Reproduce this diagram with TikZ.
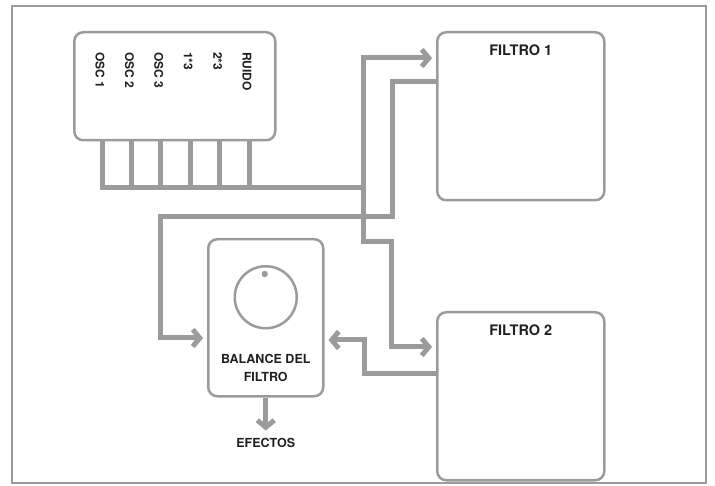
\documentclass[tikz,border=0pt]{standalone}
\usepackage{fontspec}
\setmainfont{TeX Gyre Heros}
\usetikzlibrary{arrows.meta, positioning}
\definecolor{gris}{HTML}{9B9B9B}
\definecolor{encre}{HTML}{231F20}

\begin{document}
\begin{tikzpicture}[
        % Repère en pixels (y vers le bas)
        x=1pt, y=-1pt,
        every node/.style = {font=\bfseries, text=encre},
        % Style des blocs
        bloc/.style = {
            rectangle,
            draw=gris,
            line width=2.5pt,
            fill=white,
            rounded corners=9pt,
            inner sep=0pt,
            anchor=north west
        },
        % Textes
        titre/.style = {font=\bfseries\fontsize{14.5}{17}\selectfont},
        voie/.style = {font=\bfseries\fontsize{12}{14}\selectfont, rotate=-90, anchor=west, inner sep=0pt},
        % Câbles et flèches
        cable/.style = {line width=5pt, draw=gris},
        fleche/.style = {cable, -{Straight Barb[length=7pt, width=17pt]}, shorten >=4pt}
    ]

        % Cadre
        \useasboundingbox (0,0) rectangle (715,486);
        \draw [gris, line width=2pt] (12,6) rectangle (706,483);

        % 1. Placement des blocs
        \node (osc)     [bloc, minimum width=201pt, minimum height=108pt] at (73,31) {};
        \node (filtro1) [bloc, minimum width=167pt, minimum height=168pt] at (436,31) {};
        \node (filtro2) [bloc, minimum width=167pt, minimum height=168pt] at (436,311) {};
        \node (balance) [bloc, minimum width=115pt, minimum height=157pt] at (207,238) {};
        \node (perilla) [circle, draw=gris, line width=2.5pt, minimum size=62pt, inner sep=0pt, below=27pt of balance.north] {};
        \fill [gris] ([xshift=-1pt, yshift=-9pt]perilla.north) circle (3.2pt);

        % 2. Textes
        \node [titre, below=10pt of filtro1.north] {FILTRO 1};
        \node [titre, below=10pt of filtro2.north] {FILTRO 2};
        \node (nombre) [titre, font=\bfseries\fontsize{12.5}{18.5}\selectfont, align=center, below=21pt of perilla] {BALANCE DEL\\FILTRO};
        \node (efectos) [titre, font=\bfseries\fontsize{12.5}{15}\selectfont, below=37pt of balance] {EFECTOS};

        % 3. Sorties des oscillateurs vers le bus
        \coordinate (bus) at (363,188);
        \foreach \nom [count=\i from 0] in {OSC 1, OSC 2, OSC 3, 1*3, 2*3, RUIDO} {
            \draw [cable] ([xshift=29pt+29.4pt*\i]osc.south west) |- (bus);
            \node [voie] at ([xshift=27pt+29.4pt*\i, yshift=-21pt]osc.north west) {\nom};
        }

        % 4. Câbles (Arrows)
        \draw [fleche] (bus) |- ([yshift=-27pt]filtro1.north west);
        \draw [fleche] (bus) |- (391,242) |- ([yshift=-36pt]filtro2.north west);
        \draw [fleche] ([yshift=-51pt]filtro1.north west) -| (392,217) -| (160,338) -- ([yshift=-100pt]balance.north west);
        \draw [fleche] ([yshift=-62pt]filtro2.north west) -| (364,340) -- ([yshift=-102pt]balance.north east);
        \draw [fleche] (balance.south) -- (efectos.north);

    \end{tikzpicture}
\end{document}
